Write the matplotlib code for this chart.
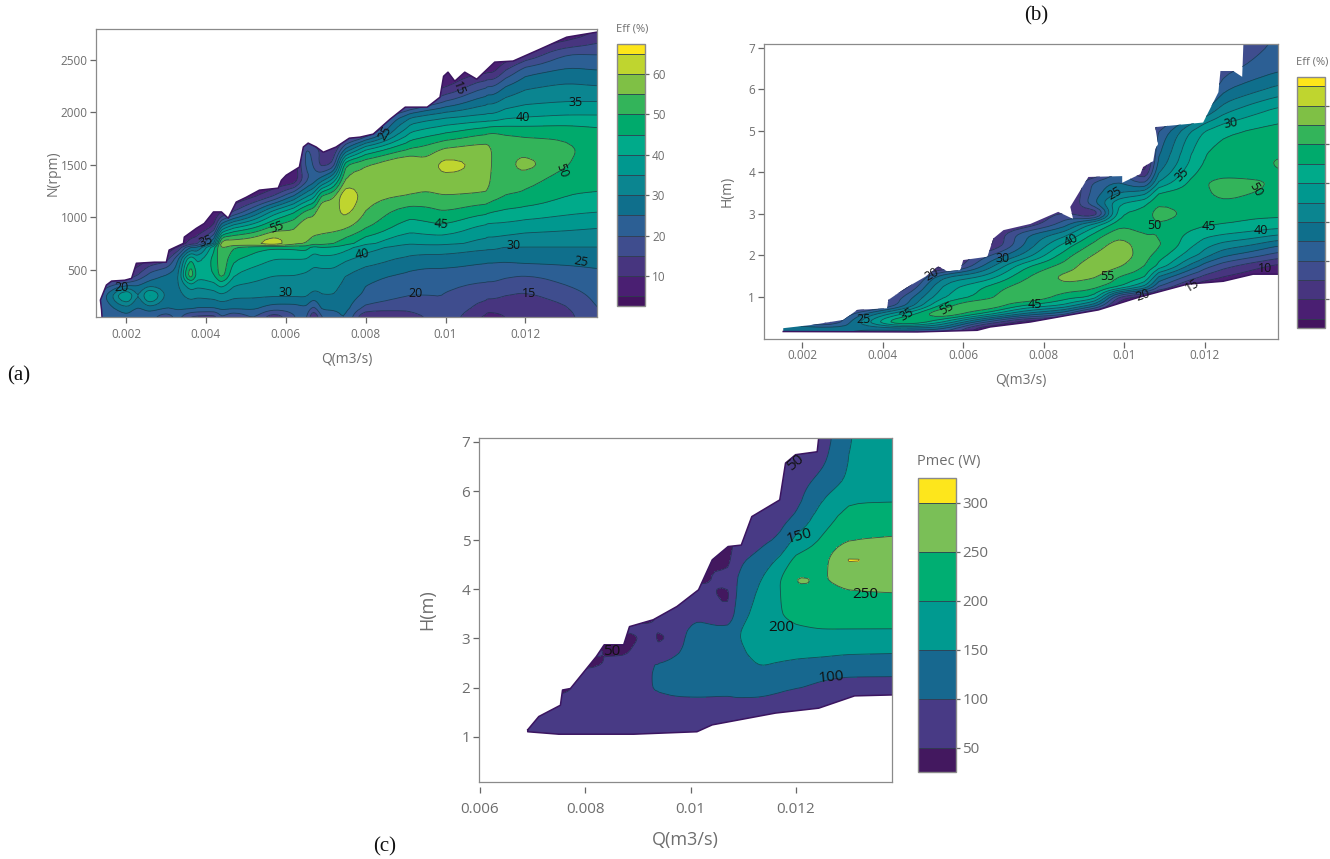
import numpy as np
import matplotlib
matplotlib.use("Agg")
import matplotlib.pyplot as plt
from matplotlib.patches import Polygon

W, H = 1330, 859
TXT = "#6e6e6e"
plt.rcParams["font.family"] = ["Open Sans", "DejaVu Sans"]

# ------------ shared scales
eff_edges = [2.6, 5, 10, 15, 20, 25, 30, 35, 40, 45, 50, 55, 60, 65, 67.4]
eff_colors = ["#43135f", "#4a1f72", "#47357f", "#3f4d8e", "#2c5f94", "#0f6f8c", "#0b8590",
              "#00988f", "#00aa8a", "#00aa6c", "#33b45a", "#7fc045", "#bfd52f", "#fde61a"]
eff_lines = [5, 10, 15, 20, 25, 30, 35, 40, 45, 50, 55, 60, 65]
eff_ticks = [10, 20, 30, 40, 50, 60]

p_edges = [25.5, 50, 100, 150, 200, 250, 300, 325.5]
p_colors = ["#43185f", "#483a85", "#17688f", "#009a90", "#00ae72", "#7abf57", "#fde61c"]
p_lines = [50, 100, 150, 200, 250, 300]
p_ticks = [50, 100, 150, 200, 250, 300]

# ------------ panel (a): efficiency vs Q, N
Q_a = [.00125, .0015, .002, .0023, .0026, .003, .0033, .0036, .0038, .0042, .0044, .0047, .0052,
       .0057, .0062, .0065, .0067, .0069, .0072, .0075, .008, .009, .0095, .01, .011, .0112, .0115,
       .012, .013, .0139]
N_a = [47, 130, 250, 350, 450, 600, 710, 750, 900, 1050, 1200, 1350, 1500, 1650, 1800, 1950,
       2100, 2250, 2400, 2550, 2700, 2800]
eff_a_cols = [
    [20, 20, 20, 10],
    [21, 22, 24, 18],
    [24, 28, 46, 24, 8],
    [21, 24, 28, 25, 15],
    [22, 27, 46, 28, 22, 10],
    [16, 25, 28, 27, 26, 12],
    [22, 26, 28, 29, 28, 24, 10],
    [14, 26, 32, 38, 58, 46, 25, 12],
    [13, 25, 31, 36, 42, 38, 25, 14],
    [12, 25, 32, 38, 45, 47, 45, 30, 10],
    [20, 26, 34, 42, 54, 54, 56, 62, 32, 8],
    [14, 26, 31, 35, 40, 46, 50, 60, 40, 14],
    [21, 26, 31, 34, 37, 43, 47, 61, 45, 25, 8],
    [10, 22, 31, 33, 35, 40, 45, 66, 52, 38, 14],
    [20, 22, 31, 33, 35, 40, 46, 57, 55, 45, 26],
    [22, 24, 31, 33, 34, 40, 47, 55, 60, 52, 34, 18, 22, 22],
    [8, 18, 28, 32, 33, 37, 43, 52, 58, 54, 38, 22, 20, 18],
    [20, 26, 30, 31, 33, 38, 45, 52, 57, 61, 52, 28, 12, 14],
    [22, 26, 30, 31, 33, 38, 44, 50, 57, 58, 55, 38, 15, 10],
    [26, 27, 28, 29, 30, 36, 42, 47, 56, 62, 66, 57, 52, 25, 8],
    [8, 18, 24, 25, 27, 33, 37, 41, 51, 55, 57, 57, 55, 40, 12],
    [12, 16, 20, 22, 24, 29, 33, 35, 42, 47, 55, 58, 62, 50, 40, 30, 8],
    [15, 18, 20, 21, 23, 28, 33, 36, 43, 48, 54, 57, 57, 52, 43, 33, 15, 8],
    [19, 20, 20, 21, 23, 28, 33, 36, 44, 50, 55, 58, 63, 56, 45, 35, 20, 8],
    [8, 12, 16, 19, 22, 26, 31, 33, 38, 46, 54, 58, 58, 58, 50, 37, 29, 20, 8],
    [8, 12, 16, 19, 22, 26, 31, 33, 38, 45, 52, 53, 54, 54, 51, 37, 29, 20, 8],
    [10, 12, 15, 18, 21, 26, 30, 32, 38, 44, 50, 52, 53, 53, 50, 39, 32, 25, 15],
    [11, 12, 14, 17, 20, 27, 30, 31, 37, 43, 49, 52, 58, 53, 49, 40, 34, 29, 23, 10],
    [13, 14, 17, 20, 22, 27, 30, 31, 36, 41, 45, 47, 50, 51, 49, 41, 35, 31, 26, 21, 8],
    [20, 21, 22, 23, 24, 27, 30, 31, 35, 40, 44, 47, 48, 48, 47, 41, 35, 30, 25, 20, 14, 10],
]
top_a_q = [.0014, .00139, .00136, .00151, .00164, .00197, .00214, .00226, .00271, .00301, .00308,
           .00344, .00346, .00376, .00396, .00419, .00439, .00456, .00476, .00501, .00534, .00581,
           .00589, .00601, .00634, .00644, .00656, .00676, .00694, .00726, .00759, .00786, .00819,
           .00861, .00899, .00954, .00986, .00995, .01006, .01023, .01048, .01078, .01123, .01169,
           .01236, .01303, .01385]
top_a_n = [47, 113, 209, 352, 390, 398, 416, 560, 570, 570, 686, 750, 810, 893, 940, 1050, 1050,
           990, 1144, 1190, 1258, 1277, 1352, 1400, 1478, 1670, 1707, 1670, 1620, 1670, 1754, 1764,
           1793, 1935, 2050, 2050, 2145, 2345, 2384, 2298, 2384, 2317, 2480, 2490, 2603, 2718, 2770]
labels_a = [("20", .0019, 333, 0), ("35", .004, 772, 20), ("55", .00578, 900, 20), ("30", .006, 285, 0),
            ("40", .0079, 650, 10), ("20", .00925, 270, 0), ("45", .0099, 937, -5), ("15", .0121, 270, 0),
            ("30", .0117, 730, 0), ("25", .0134, 578, -10), ("50", .0129, 1446, -70), ("40", .01194, 1949, 0),
            ("35", .01325, 2098, 0), ("15", .01033, 2225, -70), ("25", .00848, 1806, 60)]

# ------------ panel (b): efficiency vs Q, H
Q_b = [.0015, .0025, .0035, .0045, .0055, .0065, .0075, .0085, .00926, .00987, .0105, .01086,
       .01186, .01246, .01317, .0139]
H_b = [0, .25, .4, .6, .8, 1, 1.25, 1.5, 1.75, 2, 2.25, 2.5, 2.75, 3, 3.25, 3.5, 3.75, 4, 4.25,
       4.5, 5, 5.5, 6, 6.5, 7.1]
eff_b_cols = [
    [28, 28, 28],
    [28, 28, 10],
    [20, 26, 32, 25],
    [5, 30, 55, 40, 22, 20, 10],
    [5, 28, 40, 58, 48, 40, 37, 30],
    [5, 5, 20, 45, 58, 47, 45, 35, 25, 18],
    [5, 5, 5, 30, 45, 58, 53, 49, 44, 31, 25, 24, 10],
    [5, 5, 5, 22, 40, 47, 54, 57, 52, 48, 42, 33, 22, 18],
    [5, 5, 5, 5, 28, 45, 52, 56, 59, 56, 52, 47, 38, 5, 25, 23, 22, 8],
    [5, 5, 5, 5, 5, 12, 47, 50, 56, 59, 58, 54, 49, 45, 40, 30, 26, 22],
    [5, 5, 5, 5, 5, 5, 35, 47, 50, 52, 52, 50, 47, 47, 44, 33, 18, 8],
    [5, 5, 5, 5, 5, 5, 20, 30, 45, 48, 52, 50, 50, 53, 50, 46, 36, 30, 26, 24, 20],
    [5, 5, 5, 5, 5, 5, 5, 15, 24, 34, 38, 42, 46, 47, 47, 48, 49, 47, 45, 44, 40, 22, 10],
    [5, 5, 5, 5, 5, 5, 5, 10, 17, 26, 33, 40, 45, 47, 49, 52, 52, 48, 47, 47, 44, 33, 24, 18, 15],
    [5, 5, 5, 5, 5, 5, 5, 7, 12, 22, 30, 38, 44, 46, 48, 50, 51, 48, 48, 48, 46, 38, 28, 21, 18],
    [5, 5, 5, 5, 5, 5, 5, 5, 8, 17, 25, 35, 43, 46, 48, 49, 49, 50, 51, 49, 47, 42, 32, 24, 21],
]
top_b_q = [.00153, .00225, .00302, .00337, .00411, .00414, .00456, .00506, .00538, .0056, .00593,
           .006, .0066, .00675, .007, .00767, .00836, .00873, .00866, .00911, .00995, .00995, .0104,
           .01047, .01072, .01077, .01084, .01077, .01196, .01234, .01239, .01271, .01293, .01296, .01385]
top_b_h = [.25, .33, .45, .69, .73, .93, 1.21, 1.49, 1.74, 1.62, 1.65, 1.89, 1.97, 2.41, 2.61, 2.76,
           3.05, 2.88, 3.17, 3.89, 3.91, 3.75, 3.96, 4.13, 4.27, 4.56, 4.68, 5.09, 5.2, 5.93, 6.44,
           6.44, 6.3, 7.09, 7.09]
low_b_q = [.00153, .00486, .00635, .00667, .00767, .00865, .00936, .01038, .01157, .01246, .0132, .01385]
low_b_h = [.17, .16, .2, .28, .4, .57, .69, 1.0, 1.31, 1.38, 1.55, 1.55]
labels_b = [("25", .00352, .46, 0), ("35", .00459, .59, 30), ("55", .00558, .73, 30), ("20", .00522, 1.55, 30),
            ("30", .00699, 1.93, 0), ("45", .00779, .83, 0), ("40", .00868, 2.36, 30), ("25", .00977, 3.5, 30),
            ("55", .00958, 1.5, 0), ("50", .01074, 2.73, 0), ("20", .01046, 1.05, 20), ("15", .01168, 1.29, 30),
            ("35", .01144, 3.94, 45), ("30", .01266, 5.17, 10), ("45", .0121, 2.69, 0), ("50", .01327, 3.58, -60),
            ("40", .01339, 2.59, 0), ("10", .01349, 1.69, 0)]

# ------------ panel (c): mechanical power vs Q, H
Q_c = [.0069, .0075, .008, .0087, .0091, .0093, .0094, .0098, .0102, .0107, .0109, .0113, .0117, .012, .0125, .013, .0139]
H_c = [1, 1.5, 1.8, 2, 2.3, 2.5, 2.7, 3, 3.2, 3.5, 3.9, 4.2, 4.6, 5, 5.5, 5.8, 6.2, 6.6, 7.1]
pmec_cols = [
    [60, 60],
    [60, 65, 55, 30],
    [60, 65, 72, 68, 60, 30],
    [60, 70, 75, 75, 72, 70, 40, 30],
    [60, 75, 92, 95, 92, 85, 72, 55, 60, 30],
    [60, 75, 97, 101, 102, 100, 90, 70, 55, 45],
    [60, 75, 97, 102, 102, 100, 90, 25, 60, 60, 30],
    [60, 75, 101, 107, 108, 105, 101, 97, 95, 90, 30],
    [60, 72, 102, 108, 112, 115, 116, 114, 108, 95, 70, 40],
    [60, 72, 100, 107, 115, 120, 123, 120, 110, 52, 32, 65, 32, 30],
    [60, 70, 103, 110, 122, 130, 140, 148, 145, 128, 112, 102, 92, 60],
    [60, 65, 102, 115, 142, 155, 165, 172, 178, 170, 158, 145, 115, 85, 60],
    [60, 60, 92, 108, 135, 148, 162, 180, 190, 199, 200, 200, 160, 108, 80, 60],
    [60, 60, 80, 103, 125, 145, 158, 183, 196, 210, 235, 262, 215, 165, 100, 85, 78, 60, 60],
    [60, 60, 65, 90, 112, 138, 158, 187, 200, 222, 238, 247, 228, 208, 175, 152, 115, 90, 70],
    [60, 60, 60, 80, 108, 128, 153, 185, 200, 222, 246, 262, 325, 247, 215, 198, 160, 155, 153],
    [60, 60, 60, 88, 104, 127, 150, 180, 200, 225, 250, 262, 270, 258, 220, 198, 185, 175, 170],
]
top_c_q = [.00691, .00712, .00753, .00757, .00772, .00821, .00836, .00873, .00884, .00929, .00974,
           .01015, .01041, .01071, .01096, .01116, .01169, .0118, .01199, .0124, .01243, .01385]
top_c_h = [1.14, 1.41, 1.64, 1.95, 1.98, 2.63, 2.87, 2.87, 3.24, 3.38, 3.65, 3.99, 4.6, 4.87, 4.9,
           5.48, 5.82, 6.57, 6.74, 6.8, 7.09, 7.09]
low_c_q = [.00691, .0075, .00892, .01012, .01041, .01161, .01243, .01311, .01385]
low_c_h = [1.10, 1.05, 1.05, 1.10, 1.24, 1.48, 1.58, 1.83, 1.85]
labels_c = [("50", .01199, 6.57, 40), ("150", .01206, 5.07, 15), ("250", .01332, 3.89, 0), ("200", .01171, 3.23, 0),
            ("100", .01267, 2.2, 5), ("50", .00851, 2.73, 0)]


def axes_px(fig, l, t, r, b):
    return fig.add_axes([l / W, 1 - b / H, (r - l) / W, (b - t) / H])


def grid(cols, nrows, fill):
    return np.array([c + [fill] * (nrows - len(c)) for c in cols], dtype=float).T


def refine(x, y, z, n=5):
    """Finer sampling of the read table so that the library's contours come out rounded."""
    x, y = np.asarray(x, float), np.asarray(y, float)
    ix = np.linspace(0, len(x) - 1, (len(x) - 1) * n + 1)
    iy = np.linspace(0, len(y) - 1, (len(y) - 1) * n + 1)
    fx, fy = np.interp(ix, np.arange(len(x)), x), np.interp(iy, np.arange(len(y)), y)
    z1 = np.array([np.interp(ix, np.arange(len(x)), r) for r in z])
    z2 = np.array([np.interp(iy, np.arange(len(y)), c) for c in z1.T]).T
    k = np.array([1, 2, 3, 2, 1]) / 9
    p = np.pad(z2, 2, mode="edge")
    p = np.apply_along_axis(lambda v: np.convolve(v, k, mode="same"), 0, p)
    p = np.apply_along_axis(lambda v: np.convolve(v, k, mode="same"), 1, p)
    return fx, fy, p[2:-2, 2:-2]


def draw(ax, Q, Y, Z, edges, colors, lines, xlim, ylim, poly_x, poly_y, outline, labels, lfs):
    ax.set_xlim(xlim)
    ax.set_ylim(ylim)
    fx, fy, fz = refine(Q, Y, Z)
    cf = ax.contourf(fx, fy, fz, levels=edges, colors=colors, extend="neither")
    cl = ax.contour(fx, fy, fz, levels=lines, colors="#1d2f45", linewidths=0.6, alpha=0.75)
    clip = Polygon(np.column_stack([poly_x, poly_y]), closed=True, transform=ax.transData,
                   facecolor="none", edgecolor="none")
    ax.add_patch(clip)
    cf.set_clip_path(clip)
    cl.set_clip_path(clip)
    ax.plot(outline[0], outline[1], color="#3b1560", lw=1.1, solid_joinstyle="round")
    for s, x, y, r in labels:
        ax.text(x, y, s, fontsize=lfs, rotation=r, ha="center", va="center", color="#111111")
    for s in ax.spines.values():
        s.set_color("#8a8a8a")
        s.set_linewidth(0.9)
    return cf


def style(ax, xt, xl, yt, xname, yname, fs, lfs, offset, ypad, tpad, xpad):
    ax.set_yticks(yt)
    ax.tick_params(axis="y", length=4, width=0.9, color="#666666", labelcolor=TXT, labelsize=fs, pad=2)
    ax.set_ylabel(yname, fontsize=lfs, color=TXT, labelpad=ypad)
    if offset:
        ax.set_xticks([])
        sec = ax.secondary_xaxis(-offset)
        sec.spines["bottom"].set_visible(False)
        sec.set_xticks(xt, xl)
        sec.tick_params(axis="x", length=4, width=0.9, color="#666666", labelcolor=TXT, labelsize=fs, pad=tpad)
        sec.set_xlabel(xname, fontsize=lfs, color=TXT, labelpad=xpad)
    else:
        ax.set_xticks(xt, xl)
        ax.tick_params(axis="x", length=4, width=0.9, color="#666666", labelcolor=TXT, labelsize=fs, pad=tpad)
        ax.set_xlabel(xname, fontsize=lfs, color=TXT, labelpad=xpad)


def cbar(fig, cf, cax, ticks, fs):
    cb = fig.colorbar(cf, cax=cax, spacing="proportional", ticks=ticks, drawedges=True)
    cb.dividers.set_color("#2f3f4f")
    cb.dividers.set_linewidth(0.6)
    cb.outline.set_edgecolor("#8a8a8a")
    cb.outline.set_linewidth(1.0)
    cb.ax.tick_params(length=3, width=0.9, color="#666666", labelcolor=TXT, labelsize=fs, pad=2)
    cb.ax.minorticks_off()


fig = plt.figure(figsize=(W / 100, H / 100), dpi=100, facecolor="white")
x_ticks = [.002, .004, .006, .008, .01, .012]
x_names = ["0.002", "0.004", "0.006", "0.008", "0.01", "0.012"]

# (a)
ax = axes_px(fig, 96, 29, 597, 317)
px = top_a_q + [.01385, .0014]
py = top_a_n + [47, 47]
cf = draw(ax, Q_a, N_a, grid(eff_a_cols, len(N_a), 5), eff_edges, eff_colors, eff_lines,
          (.00125, .01379), (47, 2796), px, py, (top_a_q, top_a_n), labels_a, 9)
style(ax, x_ticks, x_names, [500, 1000, 1500, 2000, 2500], "Q(m3/s)", "N(rpm)", 8.5, 10, 0, 0, 4, 8)
cbar(fig, cf, axes_px(fig, 617, 44, 645, 306), eff_ticks, 8.5)
fig.text(616 / W, 1 - 29 / H, "Eff (%)", fontsize=8, color=TXT, va="center")

# (b)
ax = axes_px(fig, 763.5, 44, 1278, 339)
px = top_b_q + low_b_q[::-1]
py = top_b_h + low_b_h[::-1]
cf = draw(ax, Q_b, H_b, grid(eff_b_cols, len(H_b), 5), eff_edges, eff_colors, eff_lines,
          (.00104, .01382), (-0.01, 7.09), px, py, (low_b_q, low_b_h), labels_b, 9)
style(ax, x_ticks, x_names, [1, 2, 3, 4, 5, 6, 7], "Q(m3/s)", "H(m)", 8.5, 10, 0.01, 10, 1, 8)
cbar(fig, cf, axes_px(fig, 1297, 77, 1325, 328), eff_ticks, 8.5)
fig.text(1296 / W, 1 - 62 / H, "Eff (%)", fontsize=8, color=TXT, va="center")

# (c)
ax = axes_px(fig, 478.7, 438, 891.5, 781.7)
px = top_c_q + low_c_q[::-1]
py = top_c_h + low_c_h[::-1]
cf = draw(ax, Q_c, H_c, grid(pmec_cols, len(H_c), 60), p_edges, p_colors, p_lines,
          (.00598, .01381), (0.083, 7.08), px, py, (px + px[:1], py + py[:1]), labels_c, 11)
style(ax, [.006, .008, .01, .012], ["0.006", "0.008", "0.01", "0.012"], [1, 2, 3, 4, 5, 6, 7],
      "Q(m3/s)", "H(m)", 11, 13, 0.0145, 18, 7, 10)
cbar(fig, cf, axes_px(fig, 918, 478, 955.5, 772), p_ticks, 11)
fig.text(917 / W, 1 - 461 / H, "Pmec (W)", fontsize=10.5, color=TXT, va="center")

# panel letters
for s, x, y in [("(a)", 7, 376), ("(b)", 1024, 16), ("(c)", 373, 847)]:
    fig.text(x / W, 1 - y / H, s, fontsize=15, family="Liberation Serif", color="#111111",
             ha="left", va="center")

fig.savefig("out.png", dpi=100, facecolor="white")
